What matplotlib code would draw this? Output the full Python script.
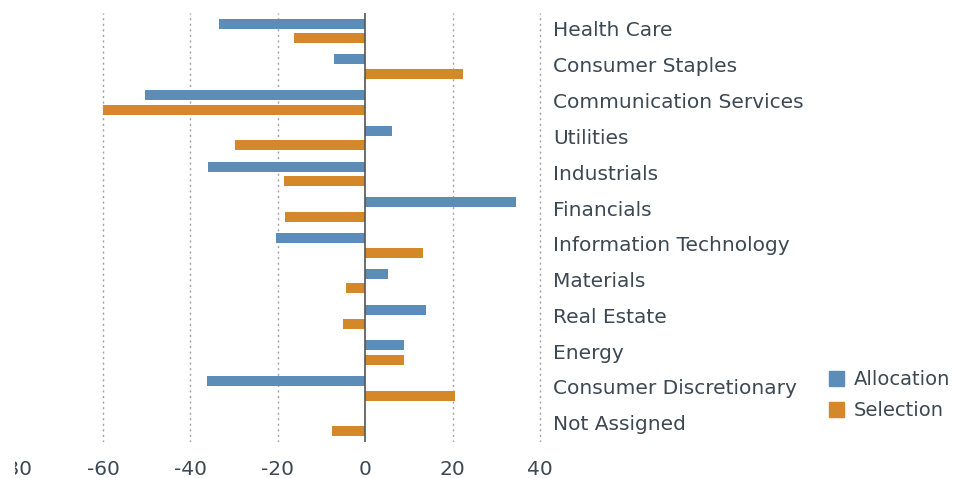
import matplotlib
matplotlib.use("Agg")
import matplotlib.pyplot as plt
import numpy as np
from matplotlib.patches import Patch
from matplotlib.transforms import Bbox, TransformedBbox

categories = ["Health Care", "Consumer Staples", "Communication Services", "Utilities",
              "Industrials", "Financials", "Information Technology", "Materials",
              "Real Estate", "Energy", "Consumer Discretionary", "Not Assigned"]
allocation = [-33.5, -7.1, -50.4, 6.2, -36.0, 34.6, -20.4, 5.1, 14.0, 8.9, -36.2, 0.0]
selection = [-16.3, 22.4, -60.1, -29.8, -18.6, -18.3, 13.3, -4.3, -5.1, 8.9, 20.6, -7.5]
xticks = [-80, -60, -40, -20, 0, 20, 40]

blue = "#5b8db8"
orange = "#d4882a"
txt = "#3d4852"

plt.rcParams["axes.unicode_minus"] = False
plt.rcParams["font.family"] = "DejaVu Sans"

fig = plt.figure(figsize=(9.56, 4.78), dpi=100)
W, H = 956, 478
ax = fig.add_axes([0, 36 / H, 542 / W, 429 / H])

y = np.arange(len(categories))
ax.barh(y - 0.2, allocation, height=0.28, color=blue, zorder=3)
ax.barh(y + 0.2, selection, height=0.28, color=orange, zorder=3)

ax.set_xlim(-83.6, 40.45)
ax.set_ylim(len(categories) - 0.5, -0.5)
ax.set_xticks(xticks)
ax.set_yticks([])
ax.grid(axis="x", color="#a0a0a0", linestyle=(0, (1.5, 2.5)), linewidth=1, zorder=0)
ax.get_xgridlines()[0].set_visible(False)
ax.get_xgridlines()[4].set_visible(False)
ax.axvline(0, color="#555555", lw=1.2, zorder=4)
for s in ax.spines.values():
    s.set_visible(False)
ax.tick_params(axis="x", length=0, pad=13, labelsize=14.5, labelcolor=txt)

# left tick label is cut off in the reference
clip = TransformedBbox(Bbox([[15 / W, 0], [1, 1]]), fig.transFigure)
lbl = ax.get_xticklabels()[0]
lbl.set_clip_on(True)
lbl.set_clip_box(clip)

for i, c in enumerate(categories):
    ax.text(553 / W, 1 - (31 + i * 35.8) / H, c, transform=fig.transFigure,
            fontsize=14.5, color=txt, va="center", ha="left")

handles = [Patch(color=blue, label="Allocation"), Patch(color=orange, label="Selection")]
fig.legend(handles=handles, loc="upper left", bbox_to_anchor=(829 / W, 1 - 370 / H),
           frameon=False, fontsize=14, labelcolor=txt, handlelength=0.78, handleheight=0.78,
           handletextpad=0.5, labelspacing=0.62, borderaxespad=0, borderpad=0)

fig.savefig("out.png", dpi=100)
